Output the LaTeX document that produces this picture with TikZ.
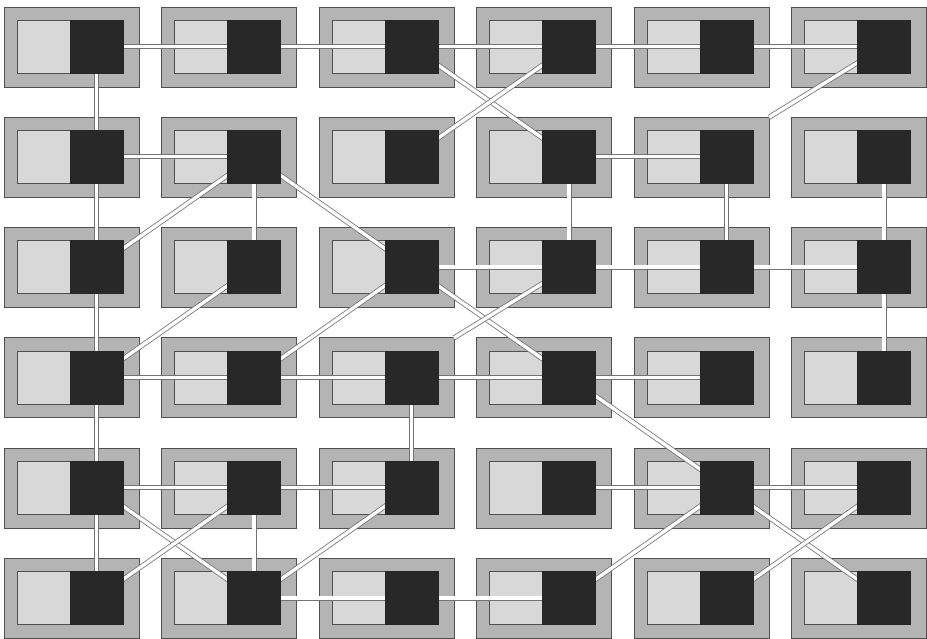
\documentclass[tikz,border=0pt]{standalone}
\definecolor{outergray}{RGB}{180,180,180}
\definecolor{innergray}{RGB}{216,216,216}
\definecolor{darkfill}{RGB}{40,40,40}
\definecolor{edgegray}{RGB}{80,80,80}
\pgfdeclarelayer{fg}
\pgfsetlayers{main,fg}
\tikzset{
  outerbox/.style={draw=edgegray, line width=0.9pt, fill=outergray, minimum width=135pt, minimum height=80pt, inner sep=0pt, outer sep=0pt},
  innerbox/.style={draw=edgegray, line width=0.8pt, fill=innergray, minimum width=106pt, minimum height=53pt, inner sep=0pt, outer sep=0pt},
  darkbox/.style={draw=black!85, line width=0.6pt, fill=darkfill, minimum size=53pt, inner sep=0pt, outer sep=0pt},
  link/.style={draw=black!55, line width=0.8pt, double=white, double distance=3.4pt},
}
\begin{document}
\begin{tikzpicture}[x=1pt,y=-1pt]
\useasboundingbox (0,0) rectangle (927,639);
\fill[white] (0,0) rectangle (927,639);
\foreach \c in {1,...,6}{
  \foreach \r in {1,...,6}{
    \pgfmathsetmacro\xx{(\c-1)*157.5}
    \pgfmathsetmacro\yy{(\r-1)*110.3}
    \node[outerbox] (o-\c-\r) at (71.5+\xx, 47+\yy) {};
    \node[innerbox] (i-\c-\r) at (70+\xx, 46.5+\yy) {};
    \begin{pgfonlayer}{fg}
      \node[darkbox] (d-\c-\r) at (96.5+\xx, 46.5+\yy) {};
    \end{pgfonlayer}
  }
}
\foreach \a/\b in {1-1/2-1, 2-1/3-1, 3-1/4-1, 4-1/5-1, 5-1/6-1,
  1-1/1-2, 3-1/4-2, 4-1/3-2,
  1-2/2-2, 4-2/5-2, 1-2/1-3, 2-2/2-3, 2-2/1-3, 2-2/3-3, 4-2/4-3, 5-2/5-3, 6-2/6-3,
  3-3/4-3, 4-3/5-3, 5-3/6-3, 6-3/6-4, 1-3/1-4, 2-3/1-4, 3-3/2-4, 3-3/4-4,
  1-4/2-4, 2-4/3-4, 3-4/4-4, 4-4/5-4, 1-4/1-5, 3-4/3-5, 4-4/5-5,
  1-5/2-5, 2-5/3-5, 4-5/5-5, 5-5/6-5, 1-5/1-6, 2-5/2-6, 1-5/2-6, 2-5/1-6, 3-5/2-6, 5-5/4-6, 5-5/6-6, 6-5/5-6,
  2-6/3-6, 3-6/4-6}{
  \draw[link] (d-\a.center) -- (d-\b.center);
}
\draw[link] (d-6-1.center) -- (o-5-2.north east);
\draw[link] (d-4-3.center) -- (o-3-4.north east);
\end{tikzpicture}
\end{document}
